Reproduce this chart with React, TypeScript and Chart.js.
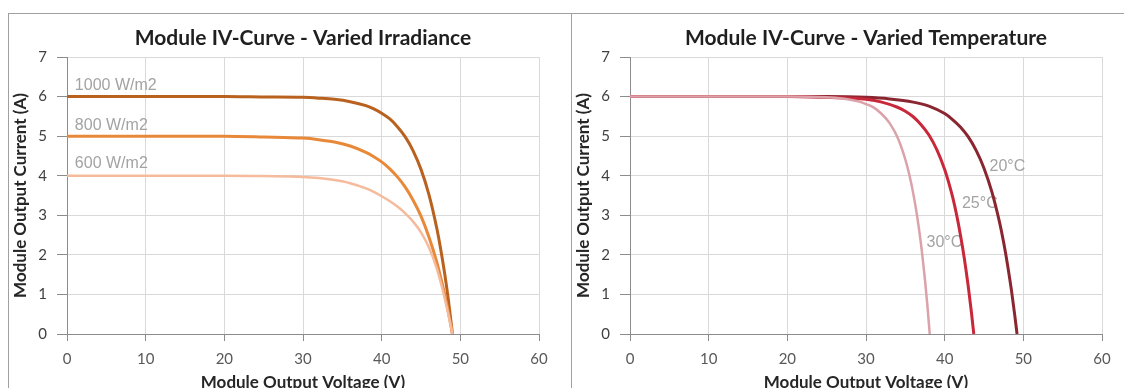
import React, { useEffect, useRef } from "react";
import { Chart, registerables } from "chart.js";

Chart.register(...registerables);

// ---------- data ----------
const xMin = 0;
const xMax = 60;
const xStep = 10;
const yMin = 0;
const yMax = 7;
const yStep = 1;

const irrTitle = "Module IV-Curve - Varied Irradiance";
const tempTitle = "Module IV-Curve - Varied Temperature";
const xAxisTitle = "Module Output Voltage (V)";
const yAxisTitle = "Module Output Current (A)";

// Irradiance curves (voltage V, current A)
const irrSeriesNames = ["1000 W/m2", "800 W/m2", "600 W/m2"];
const v1000 = [0, 10, 20, 25, 30, 32, 34, 36, 38, 39, 40, 41, 42, 43, 44, 45, 46, 47, 47.5, 48, 48.5, 49];
const i1000 = [6.0, 6.0, 6.0, 5.99, 5.98, 5.96, 5.93, 5.87, 5.77, 5.69, 5.58, 5.44, 5.24, 4.98, 4.63, 4.16, 3.53, 2.68, 2.15, 1.54, 0.83, 0];
const v800 = [0, 10, 20, 25, 30, 32, 34, 36, 38, 39, 40, 41, 42, 43, 44, 45, 46, 47, 47.5, 48, 48.5, 49];
const i800 = [5.0, 5.0, 5.0, 4.98, 4.95, 4.91, 4.85, 4.75, 4.59, 4.48, 4.35, 4.18, 3.97, 3.71, 3.38, 2.98, 2.46, 1.82, 1.43, 1.01, 0.53, 0];
const v600 = [0, 10, 20, 25, 30, 32, 34, 36, 38, 39, 40, 41, 42, 43, 44, 45, 46, 47, 47.5, 48, 48.5, 49];
const i600 = [4.0, 4.0, 4.0, 3.99, 3.97, 3.94, 3.89, 3.81, 3.68, 3.59, 3.48, 3.36, 3.22, 3.05, 2.84, 2.57, 2.19, 1.66, 1.31, 0.91, 0.48, 0];
const irrLabelV = [1.0, 1.0, 1.0];
const irrLabelI = [6.27, 5.27, 4.3];

// Temperature curves (voltage V, current A)
const tempSeriesNames = ["20°C", "25°C", "30°C"];
const v20 = [0, 10, 20, 25, 30, 33, 36, 38, 40, 41, 42, 43, 44, 45, 46, 47, 47.5, 48, 48.5, 48.9, 49.2];
const i20 = [6, 6, 6, 6, 5.98, 5.94, 5.86, 5.76, 5.57, 5.42, 5.23, 4.98, 4.64, 4.19, 3.59, 2.8, 2.31, 1.74, 1.09, 0.49, 0];
const v25 = [0, 10, 20, 25, 28, 30, 32, 34, 35, 36, 37, 38, 39, 40, 40.5, 41, 41.5, 42, 42.5, 43, 43.4, 43.7];
const i25 = [6, 6, 6, 5.98, 5.96, 5.93, 5.86, 5.73, 5.63, 5.49, 5.29, 5.03, 4.66, 4.16, 3.84, 3.47, 3.03, 2.51, 1.91, 1.2, 0.55, 0];
const v30 = [0, 10, 20, 25, 27, 28, 29, 30, 31, 32, 33, 34, 35, 35.5, 36, 36.5, 37, 37.5, 37.8, 38.1];
const i30 = [6, 6, 6, 5.98, 5.95, 5.92, 5.88, 5.81, 5.72, 5.56, 5.33, 4.97, 4.41, 4.03, 3.56, 2.98, 2.26, 1.36, 0.73, 0];
const tempLabelV = [45.7, 42.2, 37.7];
const tempLabelI = [4.24, 3.3, 2.3];

// ---------- styles ----------
const irrColors = ["#b9611f", "#e8893a", "#f5bb9c"];
const irrWidths = [3, 3, 2.5];
const tempColors = ["#8a2630", "#c8283a", "#dba2aa"];
const tempWidths = [3, 3, 2.5];

const zip = (vs: number[], is: number[]) => vs.map((v, k) => ({ x: v, y: is[k] }));

const curveLabelsPlugin = {
  id: "curveLabels",
  beforeDatasetsDraw(chart: any, _args: any, opts: any) {
    const { ctx } = chart;
    const xs = chart.scales.x;
    const ys = chart.scales.y;
    ctx.save();
    ctx.font = '16px "Liberation Sans", Arial, sans-serif';
    ctx.fillStyle = "#a3a3a3";
    ctx.textBaseline = "middle";
    ctx.textAlign = "left";
    (opts.items || []).forEach((it: any) => {
      ctx.fillText(it.text, xs.getPixelForValue(it.v), ys.getPixelForValue(it.i));
    });
    ctx.restore();
  },
};

function makeConfig(title: string, datasets: any[], items: any[], rightPad: number): any {
  const tickFont = { family: "Lato, 'Noto Sans', sans-serif", size: 15 };
  const axisTitleFont = { family: "Lato, 'Noto Sans', sans-serif", size: 17, weight: "bold" };
  return {
    type: "scatter",
    data: { datasets },
    options: {
      responsive: false,
      devicePixelRatio: 1,
      animation: false,
      layout: { padding: { left: 0, right: rightPad, top: 0, bottom: 0 } },
      plugins: {
        legend: { display: false },
        tooltip: { enabled: false },
        title: {
          display: true,
          text: title,
          fullSize: false,
          color: "#1f1f1f",
          font: { family: "Lato, 'Noto Sans', sans-serif", size: 21, weight: "bold" },
          padding: { top: 11.4, bottom: 6.4 },
        },
        curveLabels: { items },
      },
      scales: {
        x: {
          type: "linear",
          min: xMin,
          max: xMax,
          ticks: { stepSize: xStep, color: "#595959", font: tickFont, padding: 9, maxRotation: 0 },
          grid: { color: "#d9d9d9", lineWidth: 1, tickLength: 7, tickColor: "#8c8c8c" },
          border: { color: "#8c8c8c", width: 1 },
          title: {
            display: true,
            text: xAxisTitle,
            color: "#262626",
            font: axisTitleFont,
            padding: { top: 0, bottom: 4.8 },
          },
          afterFit: (s: any) => {
            s.height = 64;
          },
        },
        y: {
          type: "linear",
          min: yMin,
          max: yMax,
          ticks: { stepSize: yStep, color: "#404040", font: tickFont, padding: 10 },
          grid: { color: "#d9d9d9", lineWidth: 1, tickLength: 10, tickColor: "#8c8c8c" },
          border: { color: "#8c8c8c", width: 1 },
          title: {
            display: true,
            text: yAxisTitle,
            color: "#262626",
            font: axisTitleFont,
            padding: { top: 1, bottom: 0 },
          },
          afterFit: (s: any) => {
            s.width = 58;
          },
        },
      },
    },
    plugins: [curveLabelsPlugin],
  };
}

function lineDs(label: string, vs: number[], is: number[], color: string, width: number) {
  return {
    label,
    data: zip(vs, is),
    showLine: true,
    borderColor: color,
    backgroundColor: color,
    borderWidth: width,
    pointRadius: 0,
    cubicInterpolationMode: "monotone",
    fill: false,
  };
}

function ChartCanvas(props: { config: any; left: number; width: number }) {
  const ref = useRef<HTMLCanvasElement | null>(null);
  useEffect(() => {
    if (!ref.current) return;
    const chart = new Chart(ref.current, props.config);
    return () => chart.destroy();
  }, []);
  return (
    <canvas
      ref={ref}
      width={props.width}
      height={384}
      style={{ position: "absolute", left: props.left, top: 14, width: props.width, height: 384 }}
    />
  );
}

export default function App() {
  const irrData = [
    lineDs(irrSeriesNames[2], v600, i600, irrColors[2], irrWidths[2]),
    lineDs(irrSeriesNames[1], v800, i800, irrColors[1], irrWidths[1]),
    lineDs(irrSeriesNames[0], v1000, i1000, irrColors[0], irrWidths[0]),
  ];
  const irrItems = irrSeriesNames.map((t, k) => ({ text: t, v: irrLabelV[k], i: irrLabelI[k] }));
  const tempData = [
    lineDs(tempSeriesNames[2], v30, i30, tempColors[2], tempWidths[2]),
    lineDs(tempSeriesNames[1], v25, i25, tempColors[1], tempWidths[1]),
    lineDs(tempSeriesNames[0], v20, i20, tempColors[0], tempWidths[0]),
  ];
  const tempItems = tempSeriesNames.map((t, k) => ({ text: t, v: tempLabelV[k], i: tempLabelI[k] }));

  return (
    <div
      style={{
        position: "fixed",
        left: 0,
        top: 0,
        width: 1124,
        height: 388,
        overflow: "hidden",
        background: "#ffffff",
      }}
    >
      <ChartCanvas config={makeConfig(irrTitle, irrData, irrItems, 31)} left={9} width={561} />
      <ChartCanvas config={makeConfig(tempTitle, tempData, tempItems, 22)} left={572} width={552} />
      <div style={{ position: "absolute", left: 8, top: 13, width: 1116, height: 1, background: "#a0a0a0" }} />
      <div style={{ position: "absolute", left: 8, top: 13, width: 1, height: 375, background: "#a0a0a0" }} />
      <div style={{ position: "absolute", left: 571, top: 13, width: 1, height: 375, background: "#a0a0a0" }} />
    </div>
  );
}
